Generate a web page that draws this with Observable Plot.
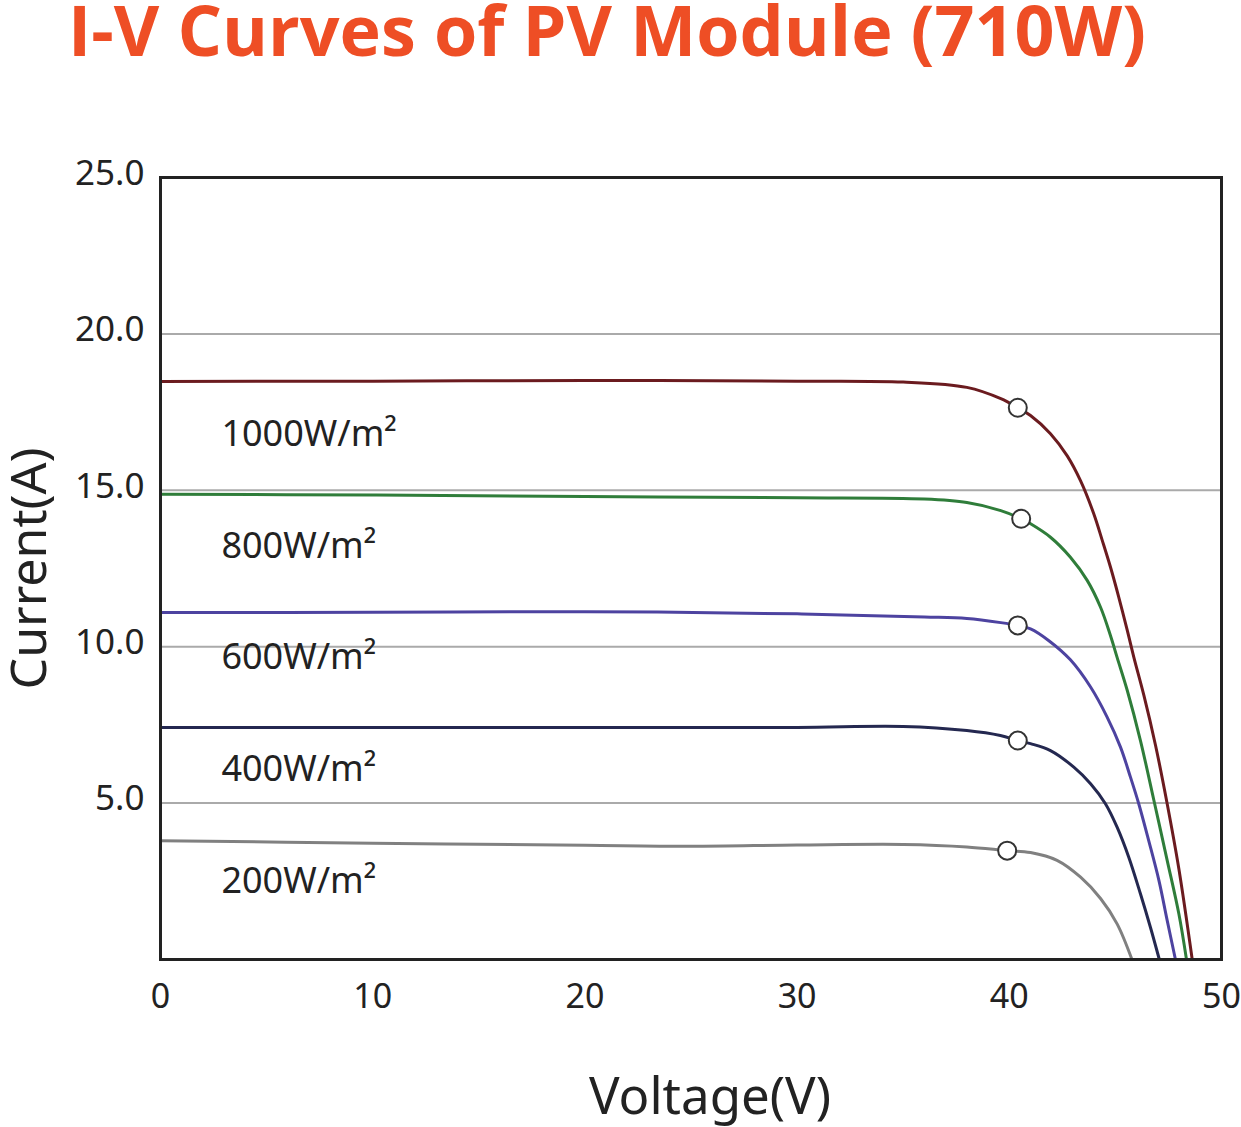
<!DOCTYPE html>
<html>
<head>
<meta charset="utf-8">
<script src="https://cdn.jsdelivr.net/npm/d3@7"></script>
<script src="https://cdn.jsdelivr.net/npm/@observablehq/plot@0.6"></script>
<style>
  html, body { margin: 0; padding: 0; background: #fff; }
  #wrap { position: relative; width: 1241px; height: 1127px; overflow: hidden; }
  #title { position: absolute; left: 68px; top: 0px; height: 62px; line-height: 58px; font-family: "Open Sans", sans-serif; font-weight: 700; font-size: 70px; color: #EE4E25; white-space: nowrap; }
  #chart { position: absolute; left: 0; top: 90px; }
</style>
</head>
<body>
<div id="wrap">
  <div id="title">I-V Curves of PV Module (710W)</div>
  <div id="chart"></div>
</div>
<script>
const seriesNames = ["1000W/m²", "800W/m²", "600W/m²", "400W/m²", "200W/m²"];
const seriesColors = ["#6b1b1f", "#2f7d3a", "#4d43a0", "#242850", "#808080"];

const volt1000 = [0, 10, 20, 30, 35, 38, 39.6, 40.4, 41.0, 41.94, 42.73, 43.36, 43.98, 44.38, 44.77, 45.16, 45.56, 45.87, 46.34, 46.89, 47.44, 47.99, 48.62];
const amp1000  = [18.48, 18.49, 18.51, 18.49, 18.46, 18.29, 17.93, 17.64, 17.39, 16.81, 16.1, 15.3, 14.25, 13.4, 12.54, 11.58, 10.52, 9.66, 8.45, 6.85, 4.98, 2.9, 0];

const volt800 = [0, 10, 20, 30, 36, 38, 39.6, 40.56, 41.0, 41.94, 42.88, 43.67, 44.3, 44.77, 45.08, 45.56, 46.18, 46.81, 47.44, 47.99, 48.35];
const amp800  = [14.87, 14.85, 14.80, 14.76, 14.72, 14.61, 14.35, 14.09, 13.93, 13.5, 12.86, 12.12, 11.26, 10.35, 9.66, 8.6, 7.0, 5.1, 3.17, 1.46, 0];

const volt600 = [0, 10, 20, 30, 36, 38, 39.6, 40.4, 41.0, 41.85, 42.88, 43.83, 44.61, 45.24, 45.71, 46.1, 46.57, 47.05, 47.44, 47.83];
const amp600  = [11.09, 11.10, 11.12, 11.05, 10.95, 10.9, 10.77, 10.68, 10.57, 10.2, 9.58, 8.71, 7.75, 6.79, 5.83, 4.98, 3.8, 2.53, 1.25, 0];

const volt400 = [0, 10, 20, 30, 35, 38, 39.58, 40.4, 41.0, 41.94, 43.04, 43.83, 44.53, 45.08, 45.63, 46.18, 46.65, 47.07];
const amp400  = [7.42, 7.42, 7.42, 7.42, 7.45, 7.32, 7.16, 7.0, 6.9, 6.68, 6.15, 5.62, 4.98, 4.23, 3.27, 2.1, 1.03, 0];

const volt200 = [0, 10, 20, 25, 30, 35, 38, 39.9, 41.0, 42.25, 43.36, 44.3, 45.08, 45.78];
const amp200  = [3.80, 3.72, 3.65, 3.62, 3.66, 3.68, 3.6, 3.48, 3.42, 3.17, 2.63, 1.95, 1.14, 0];

const mppVolt = [40.4, 40.56, 40.4, 40.4, 39.9];
const mppAmp  = [17.64, 14.09, 10.68, 7.0, 3.48];

const labelVolt = [2.87, 2.87, 2.87, 2.87, 2.87];
const labelAmp  = [16.8, 13.2, 9.65, 6.07, 2.49];

const xTicks = [0, 10, 20, 30, 40, 50];
const yTicks = [5, 10, 15, 20, 25];
const gridTicks = [5, 10, 15, 20];

const volts = [volt1000, volt800, volt600, volt400, volt200];
const amps = [amp1000, amp800, amp600, amp400, amp200];
const curves = [];
seriesNames.forEach((name, i) => {
  volts[i].forEach((v, j) => curves.push({series: name, V: v, I: amps[i][j]}));
});
const mpp = seriesNames.map((name, i) => ({series: name, V: mppVolt[i], I: mppAmp[i]}));
const labels = seriesNames.map((name, i) => ({text: name, V: labelVolt[i], I: labelAmp[i]}));

const font = "'Noto Sans', 'Open Sans', sans-serif";

const chart = Plot.plot({
  width: 1241,
  height: 1037,
  marginLeft: 160,
  marginRight: 20,
  marginTop: 87,
  marginBottom: 168,
  style: { fontFamily: font, background: "#fff", color: "#222" },
  x: { domain: [0, 50] },
  y: { domain: [0, 25] },
  color: { domain: seriesNames, range: seriesColors },
  marks: [
    Plot.ruleY(gridTicks, { stroke: "#aaa", strokeWidth: 2 }),
    Plot.axisX({ ticks: xTicks, tickSize: 0, tickPadding: 24, fontSize: 34, label: null, tickFormat: d => String(d), fill: "#222" }),
    Plot.axisY({ ticks: yTicks, tickSize: 0, tickPadding: 16, fontSize: 35, label: null, tickFormat: d => d.toFixed(1), dy: -4, fill: "#222" }),
    Plot.line(curves, { x: "V", y: "I", z: "series", stroke: "series", strokeWidth: 3, curve: "catmull-rom" }),
    Plot.dot(mpp, { x: "V", y: "I", r: 9, fill: "#fff", stroke: "#333", strokeWidth: 2 }),
    Plot.text(labels, { x: "V", y: "I", text: "text", textAnchor: "start", fontSize: 36, fill: "#222" }),
    Plot.frame({ stroke: "#222", strokeWidth: 3 }),
    Plot.text(["Current(A)"], { frameAnchor: "left", textAnchor: "middle", rotate: -90, dx: -131, fontSize: 50, fill: "#222" }),
    Plot.text(["Voltage(V)"], { frameAnchor: "bottom", textAnchor: "middle", dx: 19, dy: 154, fontSize: 51, fill: "#222" })
  ]
});
document.getElementById("chart").appendChild(chart);
</script>
</body>
</html>
